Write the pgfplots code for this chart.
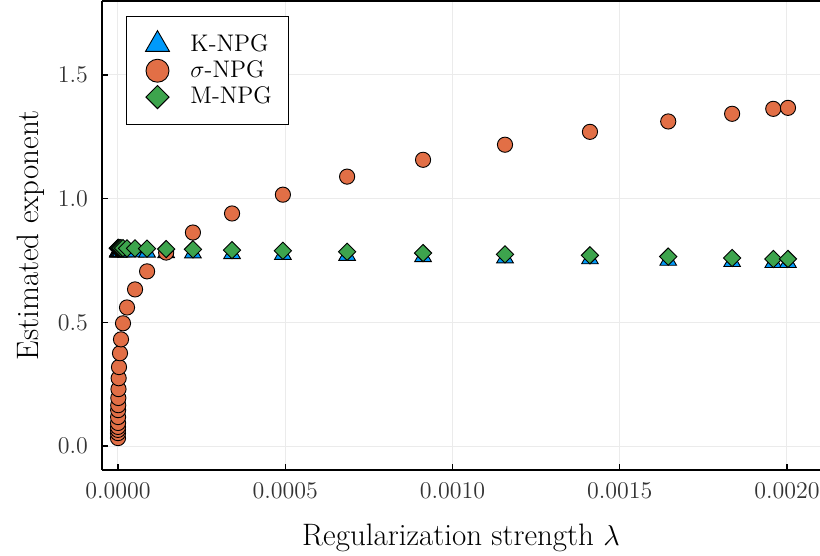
\documentclass[border=0pt]{standalone}
\usepackage{pgfplots}
\pgfplotsset{compat=1.18}
\definecolor{kblue}{HTML}{009AFA}
\definecolor{sorange}{HTML}{E26F46}
\definecolor{mgreen}{HTML}{3DA44D}
\definecolor{gridgray}{HTML}{EBEBEB}
\begin{document}
\begin{tikzpicture}
\begin{axis}[
  name=ax,
  scale only axis,
  width=359pt, height=234.5pt,
  xmin=-4.78e-5, xmax=0.0020987,
  ymin=-0.097, ymax=1.799,
  axis x line*=box, axis y line*=left,
  axis line style={line width=0.6pt, black},
  xtick={0,0.0005,0.001,0.0015,0.002},
  xticklabels={0.0000,0.0005,0.0010,0.0015,0.0020},
  ytick={0,0.5,1,1.5},
  yticklabels={0.0,0.5,1.0,1.5},
  scaled x ticks=false,
  xtick pos=bottom, ytick pos=left,
  tick align=inside,
  major tick length=3pt,
  tick style={line width=0.6pt, black},
  grid=major,
  major grid style={line width=0.5pt, gridgray},
  tick label style={font=\fontsize{12}{14}\selectfont, text=black!80},
  xticklabel style={yshift=-2.5pt},
  yticklabel style={xshift=-3.5pt},
  label style={font=\fontsize{15.5}{18}\selectfont},
  xlabel style={yshift=-6pt},
  ylabel style={yshift=0pt},
  xlabel={Regularization strength $\lambda$},
  ylabel={Estimated exponent},
  legend cell align=left,
  legend style={at={(0,1)}, anchor=north west, xshift=12pt, yshift=-7.5pt,
    draw=black, line width=0.5pt, inner xsep=8.5pt, inner ysep=9pt,
    row sep=3.2pt, column sep=9.5pt,
    nodes={inner sep=0pt, text depth=0.15em},
    font=\fontsize{12}{14}\selectfont},
]
\addplot[only marks, mark=triangle*, mark size=4.8pt, draw=black, fill=kblue, line width=0.45pt,
  legend image code/.code={\draw[overlay, mark=triangle*, mark size=6.9pt, draw=black, fill=kblue, line width=0.45pt] plot coordinates {(0pt,0pt)}; \path[draw=none, fill=none] (-7pt,-4pt) rectangle (7pt,4pt);}]
coordinates {
(0,0.785) (2e-8,0.785) (5e-8,0.785) (1e-7,0.785) (2e-7,0.785) (3e-7,0.785) (5e-7,0.785) (7e-7,0.785) (1e-6,0.785) (1.5e-6,0.785) (2e-6,0.785)
(3e-6,0.785) (6e-6,0.785) (9e-6,0.785) (1.5e-5,0.785) (2.7e-5,0.784) (5.1e-5,0.784) (8.7e-5,0.783)
(1.44e-4,0.781) (2.24e-4,0.780) (3.41e-4,0.777) (4.93e-4,0.774) (6.85e-4,0.770) (9.12e-4,0.765)
(1.157e-3,0.760) (1.411e-3,0.756) (1.645e-3,0.750) (1.836e-3,0.745) (1.959e-3,0.741) (2.003e-3,0.741)
};
\addlegendentry{K-NPG}
\addplot[only marks, mark=*, mark size=3.8pt, draw=black, fill=sorange, line width=0.45pt,
  legend image code/.code={\draw[overlay, mark=*, mark size=5.75pt, draw=black, fill=sorange, line width=0.45pt] plot coordinates {(0pt,0pt)}; \path[draw=none, fill=none] (-7pt,-4pt) rectangle (7pt,4pt);}]
coordinates {
(0,0.032) (2e-8,0.052) (5e-8,0.065) (1e-7,0.077) (2e-7,0.093) (3e-7,0.117) (5e-7,0.145) (7e-7,0.165) (1e-6,0.194) (1.5e-6,0.230) (2e-6,0.274)
(3e-6,0.319) (6e-6,0.375) (9e-6,0.431) (1.5e-5,0.496) (2.7e-5,0.560) (5.1e-5,0.633) (8.7e-5,0.706)
(1.44e-4,0.782) (2.24e-4,0.863) (3.41e-4,0.940) (4.93e-4,1.016) (6.85e-4,1.089) (9.12e-4,1.157)
(1.157e-3,1.218) (1.411e-3,1.270) (1.645e-3,1.312) (1.836e-3,1.343) (1.959e-3,1.363) (2.003e-3,1.367)
};
\addlegendentry{$\sigma$-NPG}
\addplot[only marks, mark=square*, mark size=3.05pt, mark options={rotate=45}, draw=black, fill=mgreen, line width=0.45pt,
  legend image code/.code={\draw[overlay, mark=square*, mark size=4.1pt, mark options={rotate=45}, draw=black, fill=mgreen, line width=0.45pt] plot coordinates {(0pt,0pt)}; \path[draw=none, fill=none] (-7pt,-4pt) rectangle (7pt,4pt);}]
coordinates {
(0,0.800) (2e-8,0.800) (5e-8,0.800) (1e-7,0.800) (2e-7,0.800) (3e-7,0.800) (5e-7,0.800) (7e-7,0.800) (1e-6,0.800) (1.5e-6,0.800) (2e-6,0.800)
(3e-6,0.800) (6e-6,0.800) (9e-6,0.800) (1.5e-5,0.800) (2.7e-5,0.799) (5.1e-5,0.799) (8.7e-5,0.798)
(1.44e-4,0.796) (2.24e-4,0.795) (3.41e-4,0.792) (4.93e-4,0.789) (6.85e-4,0.785) (9.12e-4,0.780)
(1.157e-3,0.775) (1.411e-3,0.771) (1.645e-3,0.766) (1.836e-3,0.760) (1.959e-3,0.756) (2.003e-3,0.756)
};
\addlegendentry{M-NPG}
\end{axis}
\pgfresetboundingbox
\path ([shift={(-51pt,-43pt)}]ax.south west) rectangle ([shift={(0pt,0.5pt)}]ax.north east);
\end{tikzpicture}
\end{document}
